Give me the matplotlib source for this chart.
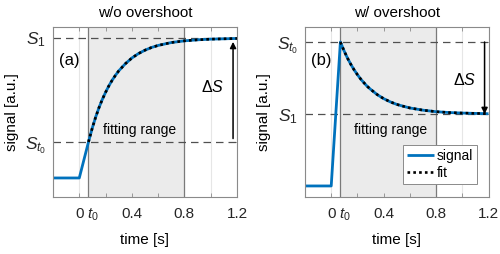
import matplotlib
matplotlib.use("Agg")
import matplotlib.pyplot as plt
from matplotlib.transforms import ScaledTranslation

plt.rcParams['font.family'] = ['Liberation Sans', 'DejaVu Sans']
plt.rcParams['mathtext.fontset'] = 'custom'
plt.rcParams['mathtext.rm'] = 'Liberation Sans'
plt.rcParams['mathtext.it'] = 'Liberation Sans:italic'
plt.rcParams['font.size'] = 11

# ---------------- data ----------------
t0 = 0.07
t_end = 0.8

# panel (a): without overshoot
a_S1 = 0.938
a_St0 = 0.324
a_sig_t = [-0.2, 0.0, 0.07, 0.1, 0.125, 0.15, 0.175, 0.2, 0.225, 0.25, 0.275, 0.3,
           0.35, 0.4, 0.45, 0.5, 0.55, 0.6, 0.7, 0.8, 0.9, 1.0, 1.1, 1.2]
a_sig_v = [0.112, 0.112, 0.324, 0.409, 0.471, 0.526, 0.574, 0.616, 0.654, 0.687, 0.716, 0.742,
           0.784, 0.818, 0.844, 0.864, 0.880, 0.892, 0.909, 0.919, 0.925, 0.929, 0.931, 0.933]
a_fit_t = a_sig_t[2:]
a_fit_v = a_sig_v[2:]

# panel (b): with overshoot
b_S1 = 0.488
b_St0 = 0.912
b_sig_t = [-0.2, 0.0, 0.07, 0.1, 0.125, 0.15, 0.175, 0.2, 0.225, 0.25, 0.275, 0.3,
           0.35, 0.4, 0.45, 0.5, 0.55, 0.6, 0.7, 0.8, 0.9, 1.0, 1.1, 1.2]
b_sig_v = [0.065, 0.065, 0.912, 0.857, 0.816, 0.780, 0.748, 0.720, 0.694, 0.672, 0.651, 0.634,
           0.603, 0.579, 0.560, 0.545, 0.534, 0.524, 0.511, 0.502, 0.497, 0.494, 0.492, 0.490]
b_fit_t = b_sig_t[2:]
b_fit_v = b_sig_v[2:]

titles = ["w/o overshoot", "w/ overshoot"]
panel_labels = ["(a)", "(b)"]
xtick_vals = [-0.2, 0.0, 0.2, 0.4, 0.6, 0.8, 1.0, 1.2]
xtick_labels = ["", "0", "", "0.4", "", "0.8", "", "1.2"]

# ---------------- figure ----------------
fig = plt.figure(figsize=(5.0, 2.54), dpi=100)
axA = fig.add_axes([0.106, 0.2244, 0.368, 0.669])
axB = fig.add_axes([0.610, 0.2244, 0.367, 0.669])

blue = '#0072BD'
spine_c = '#8a8a8a'

panels = [
    (axA, a_sig_t, a_sig_v, a_fit_t, a_fit_v, a_S1, a_St0, [a_St0, a_S1], ["$S_{t_0}$", "$S_1$"], 0.647),
    (axB, b_sig_t, b_sig_v, b_fit_t, b_fit_v, b_S1, b_St0, [b_S1, b_St0], ["$S_1$", "$S_{t_0}$"], 0.688),
]

for i, (ax, st, sv, ft, fv, S1, St0, yt, ytl, dsy) in enumerate(panels):
    ax.set_xlim(-0.2, 1.2)
    ax.set_ylim(0, 1)
    # vertical grid
    for xv in xtick_vals:
        ax.axvline(xv, color='#e6e6e6', lw=0.8, zorder=0)
    # fitting range patch
    ax.axvspan(t0, t_end, color='#ebebeb', zorder=1, lw=0)
    ax.axvline(t0, color='#7a7a7a', lw=0.9, zorder=2)
    ax.axvline(t_end, color='#7a7a7a', lw=0.9, zorder=2)
    # dashed level lines
    for yv in (S1, St0):
        ax.axhline(yv, color='#505050', lw=0.9, ls=(0, (6, 4)), zorder=2)
    # curves
    ax.plot(st, sv, color=blue, lw=2.0, zorder=3, label='signal', solid_capstyle='butt')
    ax.plot(ft, fv, color='black', lw=1.9, ls=(0, (1, 1.2)), zorder=4, label='fit')
    # arrow
    ax.annotate('', xy=(1.17, S1 + (-0.025 if i == 0 else 0.0)), xytext=(1.17, St0 + (0.02 if i == 0 else 0.0)),
                arrowprops=dict(arrowstyle='-|>', color='black', lw=1.1,
                                mutation_scale=9, shrinkA=0, shrinkB=0), zorder=5)
    ax.text(1.015, dsy, r'$\Delta S$', ha='center', va='center', fontsize=11.5, zorder=5)
    ax.text(-0.077, 0.806, panel_labels[i], ha='center', va='center', fontsize=12, zorder=5)
    ax.text(0.455, 0.394, 'fitting range', ha='center', va='center', fontsize=10, zorder=5)
    ax.set_title(titles[i], fontsize=11, pad=7)
    ax.set_xlabel('time [s]', fontsize=11, labelpad=7)
    ax.set_ylabel('signal [a.u.]', fontsize=11, labelpad=4)
    # ticks
    ax.set_xticks(xtick_vals + [t0])
    ax.set_xticklabels(xtick_labels + ["$t_0$"])
    ax.set_yticks(yt)
    ax.set_yticklabels(ytl, fontsize=12.5)
    ax.tick_params(axis='x', pad=7)
    ax.tick_params(direction='in', length=3, width=0.6, color=spine_c,
                   top=True, right=True, labelcolor='#262626')
    ax.tick_params(axis='x', labelsize=11)
    ax.tick_params(axis='y', pad=5)
    for lab in ax.get_xticklabels():
        if lab.get_text() == "$t_0$":
            lab.set_transform(lab.get_transform() + ScaledTranslation(3 / 72, 0, fig.dpi_scale_trans))
    for sp in ax.spines.values():
        sp.set_color(spine_c)
        sp.set_linewidth(0.8)
        sp.set_zorder(6)

leg = axB.legend(loc='lower right', fontsize=10, frameon=True, fancybox=False,
                 edgecolor='#8a8a8a', framealpha=1.0, handlelength=1.9,
                 handletextpad=0.2, borderpad=0.3, labelspacing=0.2,
                 bbox_to_anchor=(0.975, 0.035))
leg.get_frame().set_linewidth(0.7)
leg.set_zorder(10)

fig.savefig('out.png', dpi=100)
